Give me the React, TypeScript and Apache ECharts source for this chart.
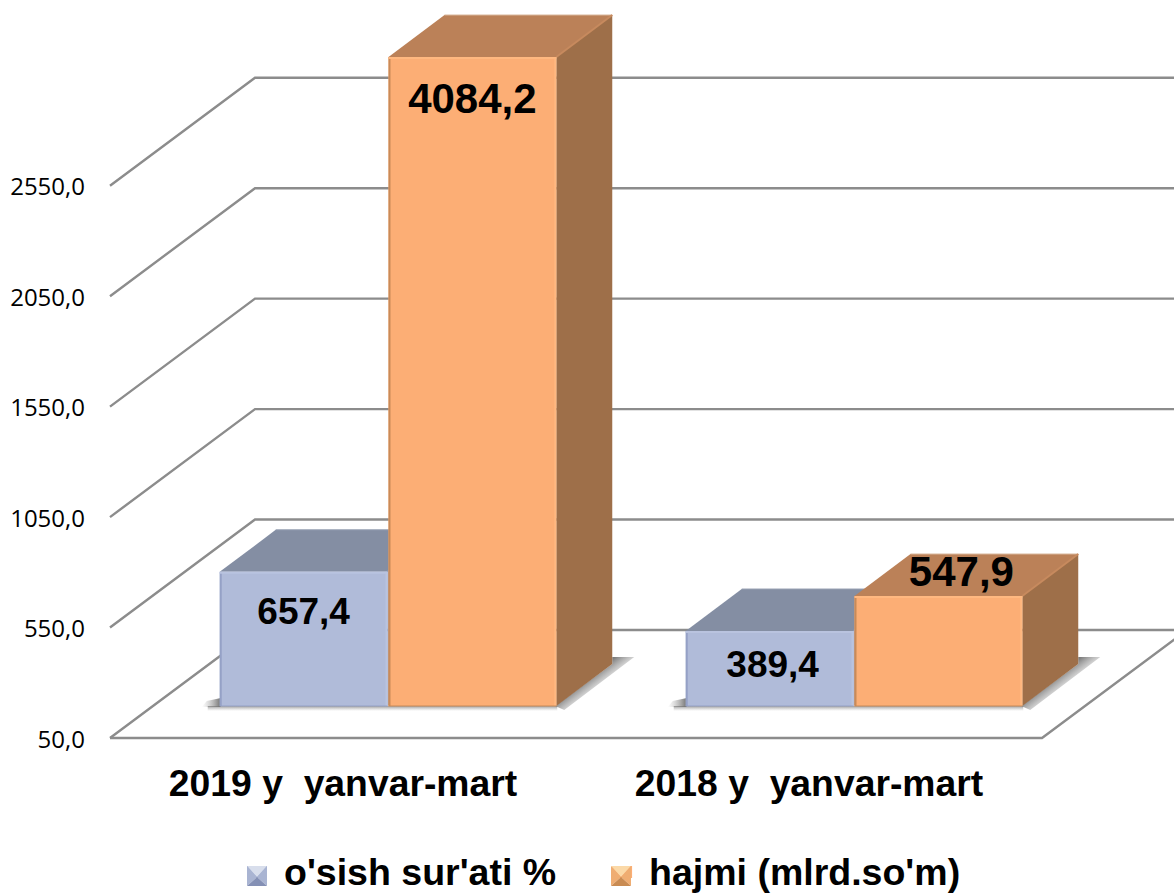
import React, { useEffect, useRef } from "react";
import * as echarts from "echarts";

const categories = ["2019 y  yanvar-mart", "2018 y  yanvar-mart"];
const growthName = "o'sish sur'ati %";
const volumeName = "hajmi (mlrd.so'm)";
const growthValues = [657.4, 389.4];
const volumeValues = [4084.2, 547.9];
const yTicks = [50, 550, 1050, 1550, 2050, 2550];
const yMin = 50;
const yMax = 2988;

const comma = (v: number) => v.toFixed(1).replace(".", ",");
const SANS = '"Liberation Sans", Arial, sans-serif';
const DEPTH_WALL = [145, -108];
const DEPTH_BAR = [56, -42];
const BASE_SHIFT = [45, -32];
const BAR_RATIO = 0.36;
const LINE = { stroke: "#8c8c8c", lineWidth: 2.4 };

function wallItem(params: any, api: any) {
  const v = api.value(1);
  const cs = params.coordSys;
  const y = api.coord([0, v])[1];
  const x0 = cs.x;
  const x1 = cs.x + cs.width;
  const bx = x0 + DEPTH_WALL[0];
  const by = y + DEPTH_WALL[1];
  const children: any[] = [
    { type: "polyline", shape: { points: [[x0, y], [bx, by], [x1 + DEPTH_WALL[0], by]] }, style: { ...LINE, fill: "none" } },
  ];
  if (v === yMin) {
    children.push({
      type: "polyline",
      shape: { points: [[x0, y], [x1, y], [x1 + DEPTH_WALL[0], by]] },
      style: { ...LINE, fill: "none" },
    });
  }
  return { type: "group", children };
}

const grad = (x: number, y: number, x2: number, y2: number, from: string, to: string) => ({
  type: "linear",
  global: true,
  x,
  y,
  x2,
  y2,
  colorStops: [
    { offset: 0, color: from },
    { offset: 1, color: to },
  ],
});
const SH_DARK = "rgba(100,100,100,0.85)";
const SH_NONE = "rgba(170,170,170,0)";

function barItem(side: number, c: any, labelDx: number[], labelDy: number[], fontSize: number) {
  return (params: any, api: any) => {
    const idx = api.value(0);
    const raw = api.value(1);
    const cx = api.coord([idx, yMin])[0] + BASE_SHIFT[0];
    const w = api.size([1, 0])[0] * BAR_RATIO;
    const xa = side < 0 ? cx - w - 0.5 : cx + 0.5;
    const xb = xa + w;
    const yb = api.coord([idx, yMin])[1] + BASE_SHIFT[1];
    const yt = api.coord([idx, Math.min(raw, yMax)])[1] + BASE_SHIFT[1];
    const [dx, dy] = DEPTH_BAR;
    const children: any[] = [];
    if (side < 0) {
      // soft floor shadow left of and under the pair of bars
      children.push({
        type: "polygon",
        shape: { points: [[xa - 18, yb + 1], [xa - 13, yb - 5], [xa + 1, yb - 8], [xa + 1, yb + 1]] },
        style: { fill: grad(xa, 0, xa - 18, 0, SH_DARK, SH_NONE) },
      });
      children.push({
        type: "rect",
        shape: { x: xa - 12, y: yb, width: 2 * w + 14, height: 5 },
        style: { fill: grad(0, yb, 0, yb + 5, "rgba(110,110,110,0.7)", SH_NONE) },
      });
    } else {
      // soft floor shadow along the right side
      const px = xb + dx;
      const py = yb + dy;
      children.push({
        type: "polygon",
        shape: { points: [[xb - 1, yb], [px, py], [px, py - 7], [px + 22, py - 7], [xb + 8, yb + 4]] },
        style: { fill: grad(px, py - 5, px + 13, py + 12, SH_DARK, SH_NONE) },
      });
    }
    children.push(
      { type: "polygon", shape: { points: [[xa, yt], [xa + dx, yt + dy], [xb + dx, yt + dy], [xb, yt]] }, style: { fill: c.top } },
      { type: "polygon", shape: { points: [[xb, yt], [xb + dx, yt + dy], [xb + dx, yb + dy], [xb, yb]] }, style: { fill: c.side } },
      { type: "line", shape: { x1: xa + dx, y1: yt + dy, x2: xb + dx, y2: yt + dy }, style: { stroke: c.back, lineWidth: 1 } },
      { type: "line", shape: { x1: xb, y1: yt, x2: xb + dx, y2: yt + dy }, style: { stroke: c.ridge, lineWidth: 2 } },
      { type: "rect", shape: { x: xa, y: yt, width: w, height: yb - yt }, style: { fill: c.front } },
      { type: "line", shape: { x1: xa + 1, y1: yt, x2: xa + 1, y2: yb }, style: { stroke: c.edge, lineWidth: 2 } },
      { type: "line", shape: { x1: xa, y1: yt + 1, x2: xb, y2: yt + 1 }, style: { stroke: c.light, lineWidth: 2 } },
      { type: "line", shape: { x1: xb - 1, y1: yt, x2: xb - 1, y2: yb }, style: { stroke: c.light, lineWidth: 2 } },
      { type: "line", shape: { x1: xa, y1: yb, x2: xb, y2: yb }, style: { stroke: c.edge, lineWidth: 1 } },
      {
        type: "text",
        style: {
          text: comma(raw),
          x: (xa + xb) / 2 + labelDx[idx],
          y: yt + labelDy[idx],
          align: "center",
          verticalAlign: "middle",
          font: `bold ${fontSize}px ${SANS}`,
          fill: "#000",
        },
      }
    );
    return { type: "group", children };
  };
}

const blue = { front: "#b0bbd9", top: "#848ea3", side: "#7f8aa5", ridge: "#8f9ab3", edge: "#95a1c6", light: "#b9c3df", back: "#97a0b2" };
const orange = { front: "#fcae75", top: "#bb8158", side: "#9e6f49", ridge: "#c78a5e", edge: "#c98a58", light: "#ffb880", back: "#d9b79b" };

function legendIcon(x: number, y: number, s: number, f: string[]) {
  const c = [x + s / 2, y + s / 2 + 1];
  const tl = [x, y], tr = [x + s, y], br = [x + s, y + s], bl = [x, y + s];
  const tri = (a: number[], b: number[], fill: string) => ({
    type: "polygon",
    z: 20,
    shape: { points: [a, b, c] },
    style: { fill },
  });
  return [tri(tl, tr, f[0]), tri(tr, br, f[1]), tri(bl, tl, f[1]), tri(br, bl, f[2])];
}

export default function App() {
  const ref = useRef<HTMLDivElement>(null);
  useEffect(() => {
    document.body.style.margin = "0";
    document.body.style.overflow = "hidden";
    const chart = echarts.init(ref.current!, undefined, { renderer: "svg" });
    chart.setOption({
      animation: false,
      backgroundColor: "#ffffff",
      grid: { left: 110, right: 132, top: 89, bottom: 155 },
      legend: {
        left: 247,
        top: 853,
        itemWidth: 20,
        itemHeight: 12,
        itemGap: 56,
        padding: 0,
        selectedMode: false,
        data: [
          { name: growthName, icon: "rect" },
          { name: volumeName, icon: "rect" },
        ],
        textStyle: { fontFamily: SANS, fontWeight: "bold", fontSize: 37.5, color: "#000", padding: [0, 0, 0, 12] },
      },
      xAxis: {
        type: "category",
        data: categories,
        axisLine: { show: false },
        axisTick: { show: false },
        splitLine: { show: false },
        axisLabel: { fontFamily: SANS, fontWeight: "bold", fontSize: 37.3, color: "#000", margin: 26 },
      },
      yAxis: {
        type: "value",
        min: yMin,
        max: yMax,
        axisLine: { show: false },
        axisTick: { show: false, customValues: yTicks },
        splitLine: { show: false },
        axisLabel: {
          customValues: yTicks,
          formatter: (v: number) => comma(v),
          fontFamily: '"Open Sans", sans-serif',
          fontSize: 24,
          color: "#000",
          margin: 25,
        },
      },
      series: [
        {
          type: "custom",
          name: "wall",
          clip: false,
          silent: true,
          renderItem: wallItem,
          data: yTicks.map((t) => [0, t]),
        },
        {
          type: "custom",
          name: growthName,
          clip: false,
          itemStyle: { color: blue.front },
          renderItem: barItem(-1, blue, [0, 3], [40, 33], 37),
          data: growthValues.map((v, i) => [i, v]),
        },
        {
          type: "custom",
          name: volumeName,
          clip: false,
          itemStyle: { color: orange.front },
          renderItem: barItem(1, orange, [0, 23], [41, -25], 42),
          data: volumeValues.map((v, i) => [i, v]),
        },
      ],
      graphic: {
        elements: [
          ...legendIcon(247, 866, 20, ["#d8deec", "#a9b4d2", "#8490b5"]),
          ...legendIcon(611, 866, 20, ["#fbd9a8", "#efad72", "#c98b52"]),
        ],
      },
    });
    return () => chart.dispose();
  }, []);
  return <div ref={ref} style={{ width: 1174, height: 893 }} />;
}
